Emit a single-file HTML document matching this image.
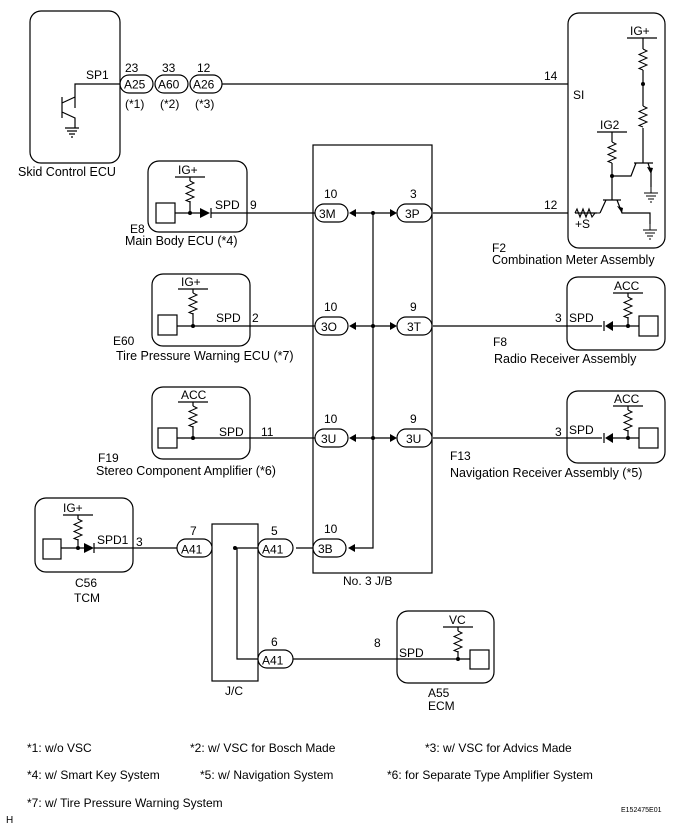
<!DOCTYPE html>
<html><head><meta charset="utf-8"><style>
html,body{margin:0;padding:0;background:#fff;}
svg{display:block;}
text{font-family:"Liberation Sans",Arial,sans-serif;font-size:12px;fill:#000;}
.s{font-size:12.5px;}
</style></head><body>
<svg width="681" height="836" viewBox="0 0 681 836" xmlns="http://www.w3.org/2000/svg">
<defs>
<g id="gnd"><path d="M0 0V6M-7 6H7M-5 9H5M-3 12H3M-1 15H1" stroke="#000" stroke-width="1" fill="none"/></g>
<g id="rv"><path d="M0 0l4 2l-8 3.5l8 3.5l-8 3.5l8 3.5l-8 3.5l4 1.5" stroke="#000" fill="none"/></g>
</defs>
<g stroke="#000" stroke-width="1.2" fill="none">
<!-- Skid Control ECU -->
<rect x="30" y="11" width="90" height="152" rx="11"/>
<path d="M120 84H75V108M62 97V118M62 103L75 97M62 112L75 118V128M65 128H79M67 131H77M69 134H75M71 137H73"/>
<path d="M222 84H568"/>
<rect x="120" y="75" width="33" height="18" rx="9"/>
<rect x="155" y="75" width="33" height="18" rx="9"/>
<rect x="190" y="75" width="32" height="18" rx="9"/>
<!-- Combination meter -->
<rect x="568" y="13" width="97" height="235" rx="11"/>
<path d="M627 38H657M643 38V49M643 70V106M643 128V163"/>
<path d="M597 132H627M612 132V142M612 163V200M612 176H631L636 163M634 163H653M648 163L651 172V187"/>
<path d="M597 213H575M600 213L606 200M603 200H621M617 200L622 213H650V224"/>
<!-- J/B -->
<rect x="313" y="145" width="119" height="428"/>
<path d="M373 213V548H355"/>
<path d="M296 548H313M261 548H237V659H258M293 659H397M212 548H177M137 548H177"/>
<path d="M433 213H568M433 326H567M433 438H567M247 213H315M250 326H315M250 438H315"/>
<path d="M355 213H391M355 326H391M355 438H391"/>
<rect x="212" y="524" width="46" height="157"/>
</g>
<g fill="#fff" stroke="#000" stroke-width="1.2">
<rect x="315" y="204" width="33" height="18" rx="9"/>
<rect x="397" y="204" width="35" height="18" rx="9"/>
<rect x="315" y="317" width="33" height="18" rx="9"/>
<rect x="397" y="317" width="35" height="18" rx="9"/>
<rect x="315" y="429" width="33" height="18" rx="9"/>
<rect x="397" y="429" width="35" height="18" rx="9"/>
<rect x="313" y="539" width="33" height="18" rx="9"/>
<rect x="177" y="539" width="35" height="18" rx="9"/>
<rect x="258" y="539" width="35" height="18" rx="9"/>
<rect x="258" y="650" width="35" height="18" rx="9"/>
</g>
<g fill="#000">
<path d="M349 213L356 209V217Z M397 213L390 209V217Z M349 326L356 322V330Z M397 326L390 322V330Z M349 438L356 434V442Z M397 438L390 434V442Z M348 548L355 544V552Z"/>
<circle cx="373" cy="213" r="2"/><circle cx="373" cy="326" r="2"/><circle cx="373" cy="438" r="2"/>
<circle cx="643" cy="84" r="2"/><circle cx="612" cy="176" r="2"/><circle cx="235" cy="548" r="2"/>
<path d="M651 174L647 167L653 168Z M622 213L617 206L623 208Z"/>
</g>
<use href="#rv" x="643" y="49"/>
<use href="#rv" x="643" y="106"/>
<use href="#rv" x="612" y="142"/>
<use href="#gnd" x="651" y="187"/>
<use href="#gnd" x="650" y="224"/>
<path d="M575 213l2-4l3 8l3-8l3 8l3-8l3 8l3-4H600" stroke="#000" fill="none" stroke-width="1.1"/>

<g stroke="#000" stroke-width="1.2" fill="none">
<rect x="148" y="161" width="99" height="71" rx="11"/>
<rect x="156" y="203" width="19" height="20"/>
<path d="M175 213H200M175 177H205M190 177V181M190 201V213M211 208V218M211 213H247"/>
<rect x="152" y="274" width="98" height="72" rx="11"/>
<rect x="158" y="315" width="19" height="20"/>
<path d="M177 326H250M178 289H208M193 289V293M193 313V326"/>
<rect x="152" y="387" width="98" height="72" rx="11"/>
<rect x="158" y="428" width="19" height="20"/>
<path d="M177 438H250M178 402H208M193 402V406M193 426V438"/>
<rect x="567" y="277" width="98" height="73" rx="11"/>
<rect x="639" y="316" width="19" height="20"/>
<path d="M639 326H612M613 293H643M628 293V297M628 317V326M604 321V331M602 326H567"/>
<rect x="567" y="391" width="98" height="72" rx="11"/>
<rect x="639" y="428" width="19" height="20"/>
<path d="M639 438H612M613 406H643M628 406V410M628 430V438M604 433V443M602 438H567"/>
<rect x="35" y="498" width="98" height="74" rx="11"/>
<rect x="43" y="539" width="18" height="20"/>
<path d="M61 548H84M63 515H93M78 515V519M78 539V548M94 543V553M94 548H137"/>
<rect x="397" y="611" width="97" height="72" rx="11"/>
<rect x="470" y="650" width="19" height="19"/>
<path d="M470 659H397M443 627H473M458 627V631M458 651V659"/>
</g>
<use href="#rv" x="190" y="181"/>
<use href="#rv" x="193" y="293"/>
<use href="#rv" x="193" y="406"/>
<use href="#rv" x="628" y="297"/>
<use href="#rv" x="628" y="410"/>
<use href="#rv" x="78" y="519"/>
<use href="#rv" x="458" y="631"/>
<g fill="#000">
<path d="M200 208L210 213L200 218Z M605 326L613 321V331Z M605 438L613 433V443Z M84 543L94 548L84 553Z"/>
<circle cx="190" cy="213" r="2"/><circle cx="193" cy="326" r="2"/><circle cx="193" cy="438" r="2"/>
<circle cx="628" cy="326" r="2"/><circle cx="628" cy="438" r="2"/><circle cx="78" cy="548" r="2"/><circle cx="458" cy="659" r="2"/>
</g>

<text x="18" y="176" class="s">Skid Control ECU</text>
<text x="86" y="79">SP1</text>
<text x="125" y="72">23</text><text x="162" y="72">33</text><text x="197" y="72">12</text>
<text x="124" y="88.5">A25</text><text x="158" y="88.5">A60</text><text x="193" y="88.5">A26</text>
<text x="125" y="108">(*1)</text><text x="160" y="108">(*2)</text><text x="195" y="108">(*3)</text>
<text x="544" y="80">14</text><text x="573" y="99">SI</text>
<text x="630" y="35">IG+</text><text x="600" y="129">IG2</text>
<text x="544" y="209">12</text><text x="575" y="228">+S</text>
<text x="492" y="252">F2</text><text x="492" y="264" class="s">Combination Meter Assembly</text>

<text x="178" y="174">IG+</text><text x="215" y="209">SPD</text><text x="250" y="209">9</text>
<text x="130" y="233">E8</text><text x="125" y="245" class="s">Main Body ECU (*4)</text>
<text x="181" y="286">IG+</text><text x="216" y="322">SPD</text><text x="252" y="322">2</text>
<text x="113" y="345">E60</text><text x="116" y="360" class="s">Tire Pressure Warning ECU (*7)</text>
<text x="181" y="399">ACC</text><text x="219" y="436">SPD</text><text x="261" y="436">11</text>
<text x="98" y="462">F19</text><text x="96" y="475" class="s">Stereo Component Amplifier (*6)</text>

<text x="324" y="198">10</text><text x="410" y="198">3</text>
<text x="319" y="218">3M</text><text x="405" y="218">3P</text>
<text x="324" y="311">10</text><text x="410" y="311">9</text>
<text x="321" y="331">3O</text><text x="407" y="331">3T</text>
<text x="324" y="423">10</text><text x="410" y="423">9</text>
<text x="321" y="443">3U</text><text x="406" y="443">3U</text>
<text x="324" y="533">10</text><text x="318" y="553">3B</text>
<text x="343" y="585">No. 3 J/B</text>

<text x="614" y="290">ACC</text><text x="569" y="322">SPD</text><text x="555" y="322">3</text>
<text x="493" y="346">F8</text><text x="494" y="363" class="s">Radio Receiver Assembly</text>
<text x="614" y="403">ACC</text><text x="569" y="434">SPD</text><text x="555" y="436">3</text>
<text x="450" y="460">F13</text><text x="450" y="477" class="s">Navigation Receiver Assembly (*5)</text>

<text x="63" y="512">IG+</text><text x="97" y="544">SPD1</text><text x="136" y="546">3</text>
<text x="75" y="587">C56</text><text x="74" y="602">TCM</text>
<text x="190" y="535">7</text><text x="271" y="535">5</text><text x="271" y="646">6</text>
<text x="181" y="553.5">A41</text><text x="262" y="553.5">A41</text><text x="262" y="664.5">A41</text>
<text x="225" y="695">J/C</text>
<text x="374" y="647">8</text><text x="399" y="657">SPD</text><text x="449" y="624">VC</text>
<text x="428" y="697">A55</text><text x="428" y="710">ECM</text>

<text x="27" y="752">*1: w/o VSC</text>
<text x="190" y="752">*2: w/ VSC for Bosch Made</text>
<text x="425" y="752">*3: w/ VSC for Advics Made</text>
<text x="27" y="779">*4: w/ Smart Key System</text>
<text x="200" y="779">*5: w/ Navigation System</text>
<text x="387" y="779">*6: for Separate Type Amplifier System</text>
<text x="27" y="807">*7: w/ Tire Pressure Warning System</text>
<text x="6" y="823" style="font-size:10px">H</text>
<text x="621" y="812" style="font-size:7px">E152475E01</text>
</svg>
</body></html>
